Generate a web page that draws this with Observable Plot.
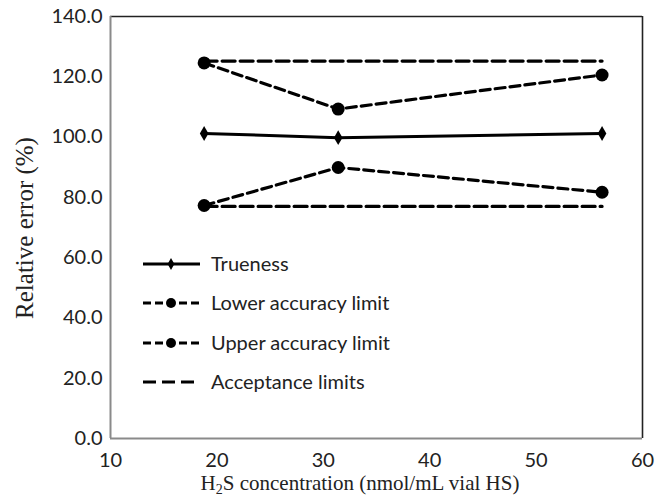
<!DOCTYPE html>
<html>
<head>
<meta charset="utf-8">
<script src="https://cdn.jsdelivr.net/npm/d3@7"></script>
<script src="https://cdn.jsdelivr.net/npm/@observablehq/plot@0.6"></script>
<style>
  html, body { margin: 0; padding: 0; background: #fff; }
  #chart svg { display: block; }
</style>
</head>
<body>
<div id="chart"></div>
<script>
// ---- data ----
const concentration = [18.8, 31.4, 56.2];          // H2S concentration (nmol/mL vial HS)
const trueness      = [101.2, 99.8, 101.2];        // %
const lowerAccuracy = [77.3, 89.9, 81.7];          // %
const upperAccuracy = [124.6, 109.3, 120.6];       // %
const acceptanceUpper = [125.2, 125.2, 125.2];     // %
const acceptanceLower = [77.0, 77.0, 77.0];        // %
const xTicks = [10, 20, 30, 40, 50, 60];
const yTicks = [0, 20, 40, 60, 80, 100, 120, 140];
const seriesNames = ["Trueness", "Lower accuracy limit", "Upper accuracy limit", "Acceptance limits"];

const toRows = (ys) => concentration.map((x, i) => ({x, y: ys[i]}));
const rowsTrue = toRows(trueness);
const rowsLow = toRows(lowerAccuracy);
const rowsUp = toRows(upperAccuracy);
const rowsAccU = toRows(acceptanceUpper);
const rowsAccL = toRows(acceptanceLower);

const W = 656, H = 498;
const sansFont = "Lato, 'Open Sans', sans-serif";
const serifFont = "'Liberation Serif', 'DejaVu Serif', serif";

const plot = Plot.plot({
  width: W,
  height: H,
  marginLeft: 110,
  marginRight: 14,
  marginTop: 16,
  marginBottom: 60,
  style: {fontFamily: sansFont, fontSize: "20px", background: "#fff", color: "#222", overflow: "visible"},
  x: {domain: [10, 60]},
  y: {domain: [0, 140]},
  marks: [
    // frame: left/bottom grey, top/right dark
    Plot.ruleY([140], {stroke: "#222", strokeWidth: 1.6}),
    Plot.ruleX([60], {stroke: "#222", strokeWidth: 1.6}),
    Plot.ruleX([10], {stroke: "#8a8a8a", strokeWidth: 2}),
    Plot.ruleY([0], {stroke: "#8a8a8a", strokeWidth: 2}),
    Plot.axisX({ticks: xTicks, tickSize: 0, tickPadding: 14, tickFormat: d => String(d), label: null, fontSize: 20}),
    Plot.axisY({ticks: yTicks, tickSize: 0, tickPadding: 8, tickFormat: d3.format(".1f"), label: null, fontSize: 20}),
    // acceptance limits
    Plot.line(rowsAccU, {x: "x", y: "y", stroke: "#000", strokeWidth: 3.2, strokeDasharray: "13,5"}),
    Plot.line(rowsAccL, {x: "x", y: "y", stroke: "#000", strokeWidth: 3.2, strokeDasharray: "13,5"}),
    // accuracy limits
    Plot.line(rowsUp, {x: "x", y: "y", stroke: "#000", strokeWidth: 3.2, strokeDasharray: "10,5"}),
    Plot.line(rowsLow, {x: "x", y: "y", stroke: "#000", strokeWidth: 3.2, strokeDasharray: "10,5"}),
    Plot.dot(rowsUp, {x: "x", y: "y", r: 6.5, fill: "#000"}),
    Plot.dot(rowsLow, {x: "x", y: "y", r: 6.5, fill: "#000"}),
    // trueness
    Plot.line(rowsTrue, {x: "x", y: "y", stroke: "#000", strokeWidth: 3}),
    Plot.dot(rowsTrue, {x: "x", y: "y", symbol: "diamond", r: 4.5, fill: "#000"})
  ]
});

document.getElementById("chart").appendChild(plot);
const svg = d3.select(plot);

// y-axis title
svg.append("text")
  .attr("transform", "translate(33,228) rotate(-90)")
  .attr("text-anchor", "middle")
  .attr("font-family", serifFont)
  .attr("font-size", 25)
  .attr("fill", "#222")
  .text("Relative error (%)");

// x-axis title with subscript
const xt = svg.append("text")
  .attr("x", 360).attr("y", 490)
  .attr("text-anchor", "middle")
  .attr("font-family", serifFont)
  .attr("font-size", 21)
  .attr("fill", "#222");
xt.append("tspan").text("H");
xt.append("tspan").attr("font-size", 14).attr("dy", 4).text("2");
xt.append("tspan").attr("dy", -4).text("S concentration (nmol/mL vial HS)");

// legend
const leg = svg.append("g").attr("font-family", sansFont).attr("font-size", 20).attr("fill", "#222").attr("text-anchor", "start");
const legY = [264, 303, 343, 382];
const legStyles = [
  {dash: null, marker: "diamond"},
  {dash: "8,4", marker: "circle"},
  {dash: "8,4", marker: "circle"},
  {dash: "13,6", marker: null}
];
seriesNames.forEach((name, i) => {
  const y = legY[i], s = legStyles[i];
  const ln = leg.append("line").attr("x1", 143).attr("x2", 200).attr("y1", y).attr("y2", y)
    .attr("stroke", "#000").attr("stroke-width", 3.2);
  if (s.dash) ln.attr("stroke-dasharray", s.dash);
  if (s.marker === "circle") leg.append("circle").attr("cx", 171).attr("cy", y).attr("r", 5).attr("fill", "#000");
  if (s.marker === "diamond") leg.append("path").attr("d", d3.symbol(d3.symbolDiamond, 40)()).attr("transform", `translate(171,${y})`).attr("fill", "#000");
  leg.append("text").attr("x", 211).attr("y", y).attr("dy", "0.35em").attr("text-anchor", "start").text(name);
});
</script>
</body>
</html>
